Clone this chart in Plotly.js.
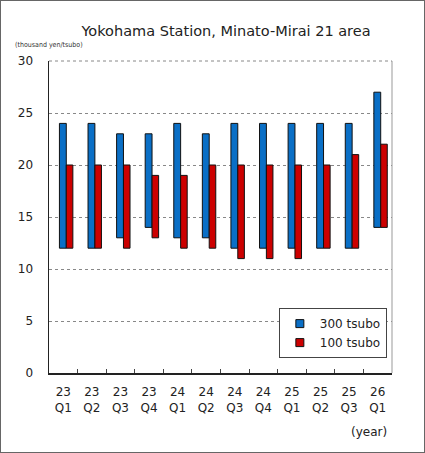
<!DOCTYPE html>
<html>
<head>
<meta charset="utf-8">
<script src="https://cdn.plot.ly/plotly-3.0.1.min.js"></script>
<style>
  body { margin: 0; background: #fff; }
  #graph { width: 423px; height: 451px; border: 1px solid #666; }
</style>
</head>
<body>
<div id="graph"></div>
<script>
var quarters = ['23<br>Q1', '23<br>Q2', '23<br>Q3', '23<br>Q4', '24<br>Q1', '24<br>Q2',
                '24<br>Q3', '24<br>Q4', '25<br>Q1', '25<br>Q2', '25<br>Q3', '26<br>Q1'];

// 300 tsubo range (low - high)
var low300  = [12, 12, 13, 14, 13, 13, 12, 12, 12, 12, 12, 14];
var high300 = [24, 24, 23, 23, 24, 23, 24, 24, 24, 24, 24, 27];

// 100 tsubo range (low - high)
var low100  = [12, 12, 12, 13, 12, 12, 11, 11, 11, 12, 12, 14];
var high100 = [20, 20, 20, 19, 19, 20, 20, 20, 20, 20, 21, 22];

var yTicks = [0, 5, 10, 15, 20, 25, 30];

var blue = '#0a6fc6';
var red = '#cc0000';

function spans(lo, hi) {
  var out = [];
  for (let i = 0; i < lo.length; i++) out[i] = hi[i] - lo[i];
  return out;
}

var trace300 = {
  x: quarters,
  y: spans(low300, high300),
  base: low300,
  type: 'bar',
  name: '300 tsubo',
  showlegend: false,
  width: 0.24,
  offset: -0.135,
  marker: { color: blue, line: { color: '#111', width: 1 } },
  hoverinfo: 'skip'
};

var trace100 = {
  x: quarters,
  y: spans(low100, high100),
  base: low100,
  type: 'bar',
  name: '100 tsubo',
  showlegend: false,
  width: 0.23,
  offset: 0.105,
  marker: { color: red, line: { color: '#111', width: 1 } },
  hoverinfo: 'skip'
};

// legend entries with small square keys like the original
var key300 = {
  x: [null], y: [null], type: 'scatter', mode: 'markers', name: '300 tsubo',
  marker: { symbol: 'square', size: 8, color: blue, line: { color: '#111', width: 1 } }
};
var key100 = {
  x: [null], y: [null], type: 'scatter', mode: 'markers', name: '100 tsubo',
  marker: { symbol: 'square', size: 8, color: red, line: { color: '#111', width: 1 } }
};

var layout = {
  width: 423,
  height: 451,
  margin: { l: 48, r: 32, t: 60, b: 79 },
  paper_bgcolor: '#fff',
  plot_bgcolor: '#fff',
  font: { family: 'DejaVu Sans, Verdana, sans-serif', size: 12, color: '#222' },
  title: {
    text: 'Yokohama Station, Minato-Mirai 21 area',
    font: { size: 14.5, color: '#222' },
    x: 225 / 423, xanchor: 'center',
    y: 1 - 30 / 451, yanchor: 'middle'
  },
  barmode: 'overlay',
  showlegend: true,
  legend: {
    x: 0.985, y: 0.208, xanchor: 'right', yanchor: 'top',
    bgcolor: '#fff', bordercolor: '#444', borderwidth: 1,
    font: { size: 12 },
    itemwidth: 30,
    traceorder: 'normal'
  },
  xaxis: {
    type: 'category',
    range: [-0.5, 11.5],
    showline: true, linecolor: '#222', linewidth: 1.5,
    ticks: 'inside', ticklen: 4, tickcolor: '#444',
    tickson: 'boundaries',
    ticklabelstandoff: 7,
    showgrid: false,
    tickfont: { size: 12 },
    fixedrange: true
  },
  yaxis: {
    range: [0, 30],
    tickvals: yTicks,
    ticktext: yTicks.map(String),
    showline: true, linecolor: '#222', linewidth: 1.5,
    ticks: '',
    ticklabelstandoff: 12,
    showgrid: true, gridcolor: '#888', griddash: 'dot', gridwidth: 1,
    zeroline: false,
    tickfont: { size: 12 },
    fixedrange: true
  },
  shapes: [
    { type: 'line', xref: 'paper', yref: 'paper', x0: 1, x1: 1, y0: 0, y1: 1,
      line: { color: '#999', width: 1 } },
    { type: 'line', xref: 'paper', yref: 'paper', x0: 0, x1: 1, y0: 1, y1: 1,
      line: { color: '#888', width: 1, dash: 'dot' } }
  ],
  annotations: [
    { text: '(thousand yen/tsubo)', xref: 'paper', yref: 'paper',
      x: -0.105, y: 1, xanchor: 'left', yanchor: 'middle', yshift: 16,
      showarrow: false,
      font: { family: 'Liberation Sans Narrow, DejaVu Sans Condensed, sans-serif', size: 7, color: '#333' } },
    { text: '(year)', xref: 'paper', yref: 'paper',
      x: 1, y: 0, xanchor: 'right', yanchor: 'middle', xshift: -3, yshift: -59,
      showarrow: false, font: { size: 12 } }
  ]
};

Plotly.newPlot('graph', [trace300, trace100, key300, key100], layout, { displayModeBar: false, staticPlot: true });
</script>
</body>
</html>
